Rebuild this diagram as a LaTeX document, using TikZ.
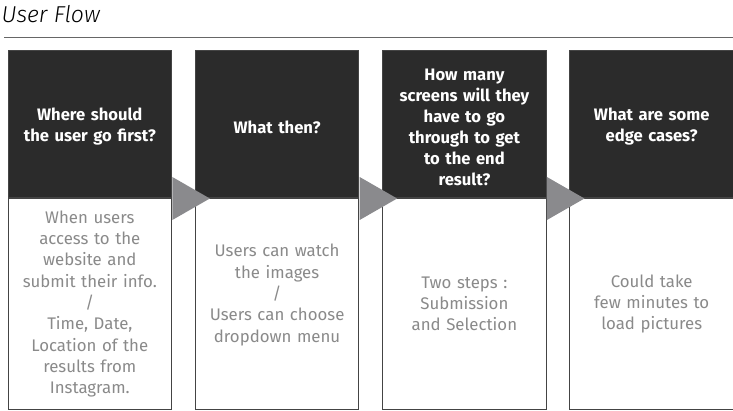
\documentclass[tikz,border=0pt]{standalone}
\usepackage{fontspec}
\setmainfont{Fira Sans}
\newfontfamily\headfont{Fira Sans Bold}
\newfontfamily\bodyfont{Fira Sans}
\newfontfamily\titlefont{Fira Sans Light Italic}
\definecolor{darkbox}{HTML}{2B2B2B}
\definecolor{edge}{HTML}{444444}
\definecolor{bodytext}{HTML}{8A8A8A}
\definecolor{arrowgray}{HTML}{8A8A8D}
\definecolor{rulegray}{HTML}{666666}
\tikzset{
  headbox/.style={rectangle, draw=edge, line width=1pt, fill=darkbox,
    minimum width=163.5pt, minimum height=147pt, inner sep=0pt},
  bodybox/.style={rectangle, draw=edge, line width=1pt, fill=white,
    minimum width=163.5pt, minimum height=210pt, inner sep=0pt},
  headtext/.style={inner sep=0pt, text=white, text width=155pt, align=center,
    font=\headfont\fontsize{16.6}{21}\selectfont},
  bodytxt/.style={inner sep=0pt, text=bodytext, text width=155pt, align=center,
    font=\bodyfont\fontsize{16.8}{21.3}\selectfont},
  flowarrow/.style={fill=arrowgray, draw=none}
}
\begin{document}
\begin{tikzpicture}[x=1pt,y=-1pt]
\useasboundingbox (0,0) rectangle (733,411);
\node[anchor=base west, inner sep=0pt, font=\titlefont\fontsize{23}{26}\selectfont, text=black] (title) at (1.5,22.5) {User Flow};
\coordinate (r1) at (4,37.5);
\coordinate (r2) at (733,37.5);
\draw[rulegray, line width=1pt] (r1) -- (r2);

% boxes
\foreach \i/\x in {1/89.8, 2/277.1, 3/464.4, 4/651.7}{
  \node[headbox] (h\i) at (\x,124.5) {};
  \node[bodybox, anchor=north] (b\i) at (h\i.south) {};
}

% texts
\node[headtext] (ht1) at ([yshift=-2.5pt]h1.center) {Where should\\the user go first?};
\node[bodytxt] (bt1) at (b1.center) {When users\\access to the\\website and\\submit their info.\\/\\Time, Date,\\Location of the\\results from\\Instagram.};

\node[headtext] (ht2) at ([yshift=-2.5pt]h2.center) {What then?};
\node[bodytxt] (bt2) at ([yshift=9pt]b2.center) {Users can watch\\the images\\/\\Users can choose\\dropdown menu};

\node[headtext] (ht3) at ([yshift=-2.5pt]h3.center) {How many\\screens will they\\have to go\\through to get\\to the end\\result?};
\node[bodytxt] (bt3) at (b3.center) {Two steps :\\Submission\\and Selection};

\node[headtext] (ht4) at ([yshift=-2.5pt]h4.center) {What are some\\edge cases?};
\node[bodytxt] (bt4) at (b4.center) {Could take\\few minutes to\\load pictures};

% arrows
\foreach \a in {1,2,3}{
  \fill[flowarrow] (h\a.south east) ++(0.3,-21.5) -- ++(37.5,21.5) -- ++(-37.5,21.5) -- cycle;
}
\end{tikzpicture}
\end{document}
